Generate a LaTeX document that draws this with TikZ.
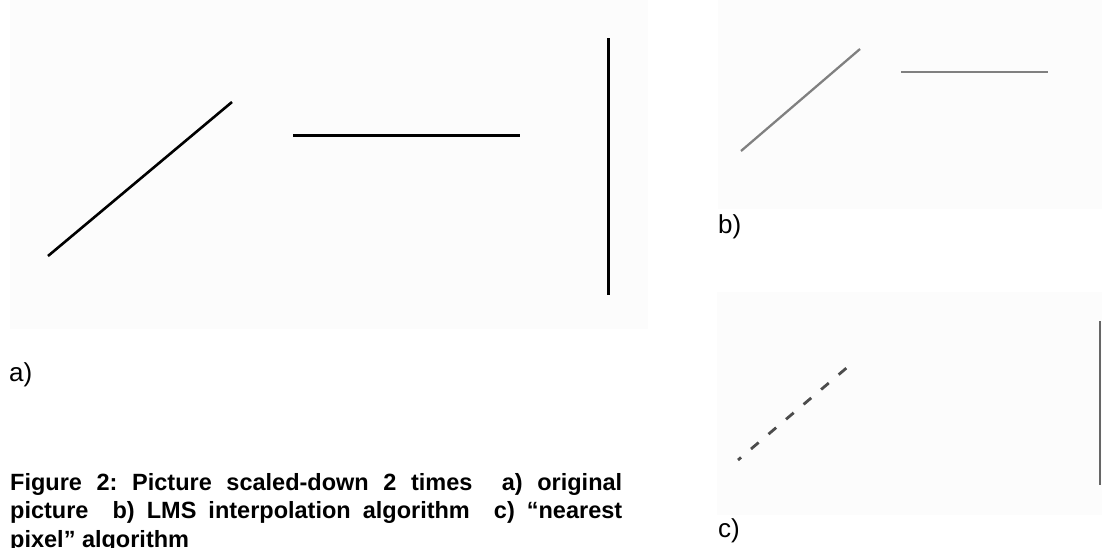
\documentclass[tikz,border=0pt]{standalone}
\usepackage{fontspec}
\setmainfont{Liberation Sans}
\usetikzlibrary{positioning}
\definecolor{panelbg}{HTML}{FCFCFC}
\frenchspacing
\tikzset{
    panel/.style={
        fill=panelbg,
        draw=none
    },
    orig/.style={black, line width=3pt},
    lms/.style={black!50, line width=2.8pt},
    nearpix/.style={
        black!70,
        line width=2.8pt,
        dash pattern=on 10pt off 13pt
    },
    lbl/.style={
        anchor=base west,
        inner sep=0pt,
        font=\fontsize{26}{30}\selectfont
    },
    caption/.style={
        anchor=base west,
        inner sep=0pt,
        text width=612pt,
        align=justify,
        font=\bfseries\fontsize{23.5}{28.5}\selectfont
    }
}

\begin{document}
\begin{tikzpicture}[x=1pt, y=-1pt]
        \clip (0,0) rectangle (1102,547);
        % image backgrounds
        \fill[panel] (10,0) rectangle (648,329);
        \fill[panel] (718,0) rectangle (1102,209);
        \fill[panel] (717,292) rectangle (1102,515);

        % a) original picture
        \coordinate (a1) at (48,256);
        \coordinate (a2) at (232,102);
        \coordinate (a3) at (293,135);
        \coordinate (a4) at (520,135);
        \coordinate (a5) at (608,38);
        \coordinate (a6) at (608,295);
        \draw[orig, line width=2.6pt] (a1) -- (a2);
        \draw[orig] (a3) -- (a4);
        \draw[orig] (a5) -- (a6);
        \node[lbl] (la) at (9,381) {a)};

        % b) LMS interpolation
        \coordinate (b1) at (741,151);
        \coordinate (b2) at (860,49);
        \coordinate (b3) at (901,72);
        \coordinate (b4) at (1048,72);
        \draw[lms, line width=2.3pt] (b1) -- (b2);
        \draw[lms] (b3) -- (b4);
        \node[lbl] (lb) at (718,233) {b)};

        % c) nearest pixel
        \coordinate (c1) at (738,460);
        \coordinate (c2) at (850,365);
        \coordinate (c3) at (1100,321);
        \coordinate (c4) at (1100,485);
        \draw[nearpix, dash phase=6pt] (c1) -- (c2);
        \draw[black!60, line width=2pt] (c3) -- (c4);
        \node[lbl] (lc) at (718,537) {c)};

        \node[caption] (cap) at (10,490) {Figure 2: Picture scaled-down 2 times \ a) original\linebreak picture \ b) LMS interpolation algorithm \ c) “nearest\linebreak pixel” algorithm};
    \end{tikzpicture}
\end{document}
